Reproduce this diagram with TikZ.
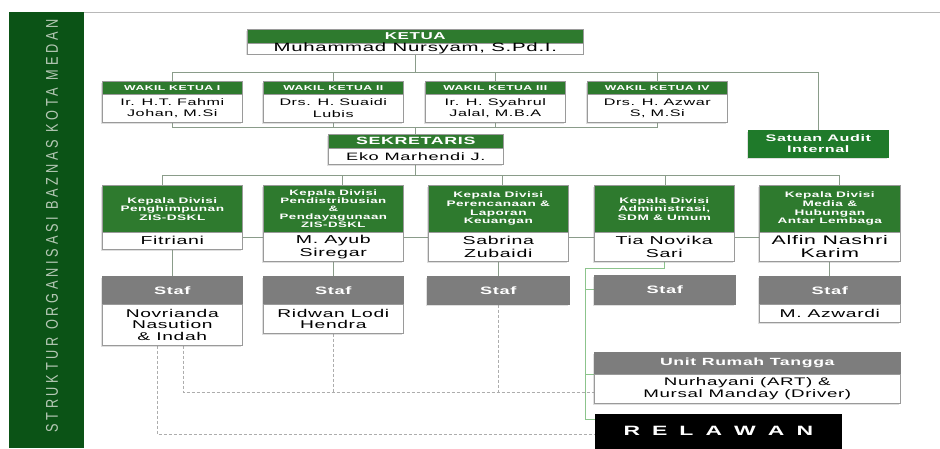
\documentclass[tikz,border=0pt]{standalone}
\usepackage{fontspec}
\setmainfont{Liberation Sans}[FakeStretch=1.7,LetterSpace=6]
\newfontfamily\relfont{Liberation Sans}[FakeStretch=1.7,LetterSpace=42]
\newfontfamily\sidefont{Liberation Sans}[FakeStretch=0.75,LetterSpace=22]
\usetikzlibrary{calc,shadows,backgrounds}
\definecolor{sidegreen}{HTML}{0B5316}
\definecolor{hgreen}{HTML}{2E7A2E}
\definecolor{agreen}{HTML}{1F7A2A}
\definecolor{sgray}{HTML}{7D7D7D}
\definecolor{bgray}{HTML}{9A9A9A}
\definecolor{lncol}{HTML}{8A9C8A}
\definecolor{glncol}{HTML}{8CC48C}
\definecolor{dcol}{HTML}{ADADAD}
\definecolor{sidetext}{HTML}{B5C8B5}
\definecolor{toplinecol}{HTML}{B8B8B8}
\newcommand\fs[2]{\fontsize{#1}{#2}\selectfont}
\tikzset{
 box/.style={anchor=north west, inner sep=0pt, align=center, draw=bgray, line width=0.6pt},
 shd/.style={drop shadow={opacity=0.25, shadow xshift=-1pt, shadow yshift=-1.5pt}},
 hd/.style={box, shd, fill=hgreen, text=white},
 gh/.style={box, shd, fill=sgray, draw=sgray, text=white},
 bd/.style={box, shd, fill=white},
 ln/.style={draw=lncol, line width=0.8pt},
 gln/.style={draw=glncol, line width=0.9pt},
 dln/.style={draw=dcol, line width=0.8pt, dash pattern=on 3pt off 2pt},
}
\begin{document}
\begin{tikzpicture}[x=1pt,y=1pt]
\useasboundingbox (0,0) rectangle (940,-448);
% sidebar
\fill[sidegreen] (9,-12) rectangle (84,-448);
\node[rotate=90, text=sidetext, font=\sidefont\fs{17}{17}, inner sep=0pt] (side) at (52,-226) {STRUKTUR ORGANISASI BAZNAS KOTA MEDAN};
\draw[toplinecol, line width=0.8pt] (84,-12.5) -- (940,-12.5);

% KETUA
\node[hd, minimum width=336, minimum height=14, font=\bfseries\fs{10}{10}] (kh) at (247,-29) {KETUA};
\node[bd, minimum width=336, minimum height=10, text height=8.5, text depth=2, font=\fs{12}{12}] (kb) at (247,-43) {Muhammad Nursyam, S.Pd.I.};

% WAKIL
\foreach \n/\x/\t/\b in {w1/102/WAKIL KETUA I/{Ir. H.T. Fahmi\\Johan, M.Si},
                         w2/263/WAKIL KETUA II/{Drs. H. Suaidi\\Lubis},
                         w3/425/WAKIL KETUA III/{Ir. H. Syahrul\\Jalal, M.B.A},
                         w4/587/WAKIL KETUA IV/{Drs. H. Azwar\\S, M.Si}}{
  \node[hd, minimum width=140, minimum height=13, font=\bfseries\fs{7.2}{7.2}] (\n h) at (\x,-81) {\t};
  \node[bd, minimum width=140, minimum height=28, font=\fs{9.5}{11.5}] (\n b) at (\x,-94) {\b};
}

% Audit
\node[box, shd, fill=agreen, draw=agreen, text=white, minimum width=140, minimum height=27, font=\bfseries\fs{9.5}{11}] (au) at (748,-130) {Satuan Audit\\Internal};

% Sekretaris
\node[hd, minimum width=175, minimum height=14, font=\bfseries\fs{10.5}{10.5}] (sh) at (328,-134) {SEKRETARIS};
\node[bd, minimum width=175, minimum height=16, font=\fs{10.7}{11}] (sb) at (328,-148) {Eko Marhendi J.};

% Divisions
\node[hd, minimum width=140, minimum height=47, font=\bfseries\fs{8}{8.6}] (d1h) at (102,-185) {Kepala Divisi\\Penghimpunan\\ZIS-DSKL};
\node[bd, minimum width=140, minimum height=17, font=\fs{11.5}{13}] (d1b) at (102,-232) {Fitriani};
\node[hd, minimum width=140, minimum height=47, font=\bfseries\fs{7.8}{7.8}] (d2h) at (263,-185) {Kepala Divisi\\Pendistribusian\\\&\\Pendayagunaan\\ZIS-DSKL};
\node[bd, minimum width=140, minimum height=29, font=\fs{11.5}{13}] (d2b) at (263,-232) {M. Ayub\\Siregar};
\node[hd, minimum width=140, minimum height=47, font=\bfseries\fs{8}{8.6}] (d3h) at (428,-185) {Kepala Divisi\\Perencanaan \&\\Laporan\\Keuangan};
\node[bd, minimum width=140, minimum height=29, font=\fs{11.5}{13}] (d3b) at (428,-232) {Sabrina\\Zubaidi};
\node[hd, minimum width=140, minimum height=47, font=\bfseries\fs{8}{8.6}] (d4h) at (594,-185) {Kepala Divisi\\Administrasi,\\SDM \& Umum};
\node[bd, minimum width=140, minimum height=29, font=\fs{11.5}{13}] (d4b) at (594,-232) {Tia Novika\\Sari};
\node[hd, minimum width=141, minimum height=47, font=\bfseries\fs{8}{8.6}] (d5h) at (759,-185) {Kepala Divisi\\Media \&\\Hubungan\\Antar Lembaga};
\node[bd, minimum width=141, minimum height=29, font=\fs{12.5}{13}] (d5b) at (759,-232) {Alfin Nashri\\Karim};

% Staf
\node[gh, minimum width=140, minimum height=28, font=\bfseries\fs{10.7}{11}] (s1h) at (102,-276) {Staf};
\node[bd, minimum width=140, minimum height=41, font=\fs{11.3}{11.5}] (s1b) at (102,-304) {Novrianda\\Nasution\\\& Indah};
\node[gh, minimum width=140, minimum height=28, font=\bfseries\fs{10.7}{11}] (s2h) at (263,-276) {Staf};
\node[bd, minimum width=140, minimum height=29, font=\fs{11.3}{11.5}] (s2b) at (263,-304) {Ridwan Lodi\\Hendra};
\node[gh, minimum width=142, minimum height=28, font=\bfseries\fs{10.7}{11}] (s3) at (427,-276) {Staf};
\node[gh, minimum width=141, minimum height=29, font=\bfseries\fs{10.7}{11}] (s4) at (594,-275) {Staf};
\node[gh, minimum width=141, minimum height=28, font=\bfseries\fs{10.7}{11}] (s5h) at (759,-276) {Staf};
\node[bd, minimum width=141, minimum height=18, font=\fs{11.3}{11.5}] (s5b) at (759,-304) {M. Azwardi};

% Unit Rumah Tangga
\node[gh, minimum width=306, minimum height=22, font=\bfseries\fs{10.4}{11}] (uh) at (594,-352) {Unit Rumah Tangga};
\node[bd, minimum width=306, minimum height=29, font=\fs{11}{11.5}] (ub) at (594,-374) {Nurhayani (ART) \&\\Mursal Manday (Driver)};

% Relawan
\node[box, fill=black, draw=black, text=white, minimum width=246, minimum height=34, font=\relfont\bfseries\fs{13.5}{13.5}] (rel) at (595,-414) {R E L A W A N};

% coordinates
\coordinate (bus1) at (0,-72);
\coordinate (bus2) at (0,-127);
\coordinate (bus3) at (0,-175);
\coordinate (dashA) at (0,-392);
\coordinate (dashB) at (0,-434);
\coordinate (gturn) at (585,-268);
\coordinate (d1t) at ($(d1h.north)+(-10,0)$);
\coordinate (d2t) at ($(d2h.north)+(9,0)$);
\coordinate (d3t) at ($(d3h.north)+(4,0)$);
\coordinate (d4t) at ($(d4h.north)+(1,0)$);
\coordinate (d5t) at ($(d5h.north)+(10,0)$);
\coordinate (relj) at ($(rel.north west)+(0,-5)$);
\coordinate (da) at ($(s1b.south west)+(81,0)$);
\coordinate (db) at ($(s1b.south west)+(55,0)$);

\begin{pgfonlayer}{background}
\draw[ln] (kb.south) -- (kb.south |- bus1);
\draw[ln] (w1h.north) -- (w1h.north |- bus1) -| (au.north);
\foreach \n in {w2h,w3h,w4h} \draw[ln] (\n.north) -- (\n.north |- bus1);
\draw[ln] (w1b.south) -- (w1b.south |- bus2) -| (w4b.south);
\foreach \n in {w2b,w3b} \draw[ln] (\n.south) -- (\n.south |- bus2);
\draw[ln] (sh.north) -- (sh.north |- bus2);
\draw[ln] (sb.south) -- (sb.south |- bus3);
\draw[ln] (d1t) -- (d1t |- bus3) -| (d5t);
\foreach \n in {d2t,d3t,d4t} \draw[ln] (\n) -- (\n |- bus3);
\draw[ln] ($(d1b.north east)+(0,-5)$) -- ($(d5b.north west)+(0,-5)$);
\draw[ln] (d1b.south) -- (s1h.north);
\draw[ln] (d2b.south) -- (s2h.north);
\draw[ln] (d3b.south) -- (s3.north);
\draw[ln] (d5b.south) -- (s5h.north);
\draw[gln] (d4b.south) |- (gturn) |- (relj);
\draw[gln] (s4.west) -- (s4.west -| gturn);
\draw[gln] (uh.south west) -- (uh.south west -| gturn);
\draw[dln] (da) |- (ub.south west |- dashA);
\draw[dln] (s2b.south) -- (s2b.south |- dashA);
\draw[dln] (s3.south) -- (s3.south |- dashA);
\draw[dln] (db) |- (rel.west |- dashB);
\end{pgfonlayer}
\end{tikzpicture}
\end{document}
